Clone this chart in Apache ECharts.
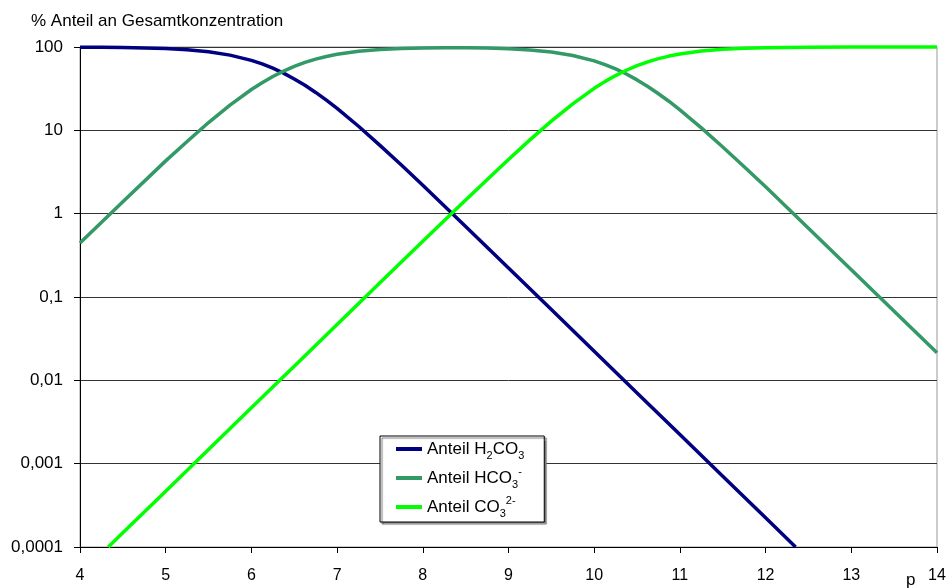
<!DOCTYPE html>
<html>
<head>
<meta charset="utf-8">
<script src="https://cdn.jsdelivr.net/npm/echarts@6/dist/echarts.min.js"></script>
<style>
html,body{margin:0;padding:0;background:#fff;}
#chart{width:949px;height:588px;}
</style>
</head>
<body>
<div id="chart"></div>
<script>
// pH sample points and read-off percentages
var phH2CO3 = [4, 4.25, 4.5, 4.75, 5, 5.25, 5.5, 5.75, 6, 6.125, 6.25, 6.375, 6.5, 6.625, 6.75, 6.875, 7, 7.25, 7.5, 7.75, 8, 8.5, 9, 9.5, 10, 10.5, 11, 11.5, 12, 12.35];
var valH2CO3 = [99.55, 99.21, 98.6, 97.55, 95.7, 92.6, 87.6, 79.9, 69.1, 62.7, 55.7, 48.6, 41.4, 34.7, 28.5, 23.0, 18.3, 11.2, 6.6, 3.83, 2.19, 0.70, 0.223, 0.0706, 0.0223, 0.00706, 0.00224, 0.000708, 0.000224, 0.0001];

var phHCO3 = [4, 4.5, 5, 5.25, 5.5, 5.75, 6, 6.125, 6.25, 6.375, 6.5, 6.625, 6.75, 6.875, 7, 7.25, 7.5, 7.75, 8, 8.25, 8.5, 8.75, 9, 9.25, 9.5, 9.75, 10, 10.125, 10.25, 10.375, 10.5, 10.625, 10.75, 10.875, 11, 11.25, 11.5, 11.75, 12, 12.5, 13, 13.5, 14];
var valHCO3 = [0.445, 1.39, 4.3, 7.36, 12.4, 20.1, 30.9, 37.3, 44.3, 51.4, 58.5, 65.3, 71.5, 77.0, 81.7, 88.7, 93.3, 95.9, 97.4, 97.9, 97.9, 97.1, 95.3, 92.2, 87.1, 79.2, 68.1, 61.6, 54.6, 47.4, 40.3, 33.6, 27.5, 22.2, 17.6, 10.7, 6.3, 3.66, 2.1, 0.67, 0.213, 0.0676, 0.0214];

var phCO3 = [4.33, 4.5, 5, 5.5, 6, 6.5, 7, 7.5, 8, 8.5, 8.75, 9, 9.25, 9.5, 9.75, 10, 10.125, 10.25, 10.375, 10.5, 10.625, 10.75, 10.875, 11, 11.25, 11.5, 11.75, 12, 12.25, 12.5, 13, 13.5, 14];
var valCO3 = [0.0001, 0.000148, 0.000468, 0.00148, 0.00468, 0.0148, 0.0468, 0.148, 0.466, 1.46, 2.56, 4.47, 7.68, 12.9, 20.8, 31.9, 38.4, 45.4, 52.6, 59.7, 66.4, 72.5, 77.8, 82.4, 89.3, 93.7, 96.3, 97.9, 98.8, 99.3, 99.8, 99.93, 99.98];

var seriesNames = ['Anteil H2CO3', 'Anteil HCO3-', 'Anteil CO32-'];
var legendRich = {
  'Anteil H2CO3': 'Anteil {n|H}{sub|2}{n|CO}{sub|3}',
  'Anteil HCO3-': 'Anteil {n|HCO}{sub|3}{sup|-}',
  'Anteil CO32-': 'Anteil {n|CO}{sub|3}{sup|2-}'
};
var seriesColors = ['#000080', '#339966', '#00FF00'];
var xTicks = [4, 5, 6, 7, 8, 9, 10, 11, 12, 13, 14];
var yTickLabels = ['0,0001', '0,001', '0,01', '0,1', '1', '10', '100'];
var titleText = '% Anteil an Gesamtkonzentration';
var xName = 'p';

function pairs(xs, ys) { return xs.map(function (x, i) { return [x, ys[i]]; }); }

var dataSets = [pairs(phH2CO3, valH2CO3), pairs(phHCO3, valHCO3), pairs(phCO3, valCO3)];

var font = '"Liberation Sans", Arial, Helvetica, sans-serif';
var chart = echarts.init(document.getElementById('chart'), null, {renderer: 'canvas'});
chart.setOption({
  animation: false,
  backgroundColor: '#fff',
  textStyle: {fontFamily: font, color: '#000'},
  title: {
    text: titleText,
    left: 26, top: 8,
    textStyle: {fontSize: 17, fontWeight: 'normal', color: '#000', fontFamily: font}
  },
  grid: {
    left: 80, right: 12, top: 47, bottom: 41,
    show: true, borderColor: '#999', borderWidth: 1, backgroundColor: 'transparent'
  },
  legend: {
    orient: 'vertical',
    left: 380, top: 436,
    padding: [1, 20, 3, 16],
    itemGap: 5,
    itemWidth: 26, itemHeight: 4,
    icon: 'rect',
    backgroundColor: '#fff',
    borderColor: '#000', borderWidth: 1,
    shadowColor: '#777', shadowOffsetX: 2, shadowOffsetY: 2, shadowBlur: 1,
    data: seriesNames,
    formatter: function (name) { return legendRich[name]; },
    textStyle: {
      fontSize: 17, color: '#000', fontFamily: font, lineHeight: 24,
      rich: {
        n: {fontSize: 17, fontFamily: font, color: '#000', lineHeight: 24},
        sub: {fontSize: 11, fontFamily: font, color: '#000', lineHeight: 10, verticalAlign: 'bottom'},
        sup: {fontSize: 11, fontFamily: font, color: '#000', lineHeight: 10, verticalAlign: 'top'}
      }
    }
  },
  xAxis: {
    type: 'value', min: 4, max: 14, interval: 1,
    axisLine: {show: true, onZero: false, lineStyle: {color: '#000', width: 1}},
    axisTick: {show: true, length: 6, inside: false, lineStyle: {color: '#000'}},
    axisLabel: {fontSize: 16, color: '#000', margin: 21, fontFamily: font,
      formatter: function (v) { return xTicks.indexOf(v) >= 0 ? String(v) : ''; }},
    splitLine: {show: false}
  },
  yAxis: {
    type: 'log', logBase: 10, min: 0.0001, max: 100,
    axisLine: {show: true, lineStyle: {color: '#000', width: 1}},
    axisTick: {show: true, length: 6, lineStyle: {color: '#000'}},
    axisLabel: {fontSize: 17, color: '#000', margin: 17, fontFamily: font,
      formatter: function (v) {
        var i = Math.round(Math.log(v) / Math.LN10) + 4;
        return yTickLabels[i] || '';
      }},
    splitLine: {show: true, lineStyle: {color: '#333', width: 1}}
  },
  graphic: [{
    type: 'text', left: 906, top: 572,
    style: {text: xName, fontSize: 17, fill: '#000', fontFamily: font}
  }],
  series: seriesNames.map(function (n, i) {
    return {
      name: n, type: 'line', data: dataSets[i],
      color: seriesColors[i],
      showSymbol: false, symbol: 'none',
      smooth: false,
      clip: false,
      lineStyle: {color: seriesColors[i], width: 3.5, join: 'round'}
    };
  })
});
</script>
</body>
</html>
